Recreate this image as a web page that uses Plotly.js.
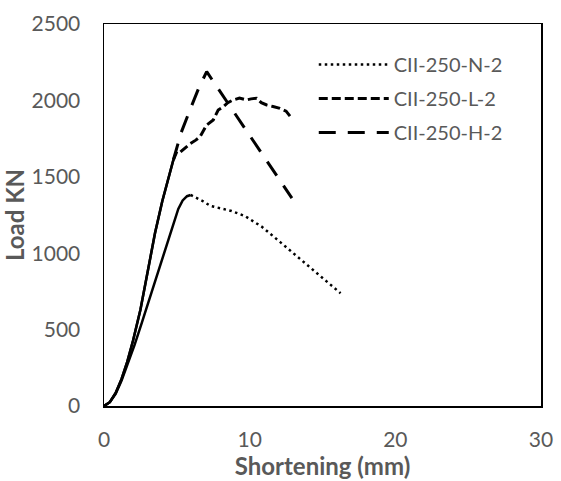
<!DOCTYPE html>
<html>
<head>
<meta charset="utf-8">
<script src="https://cdn.plot.ly/plotly-3.0.1.min.js"></script>
<style>html,body{margin:0;padding:0;background:#fff;}#chart{width:561px;height:481px;}</style>
</head>
<body>
<div id="chart"></div>
<script>
// Series names
const seriesNames = ["CII-250-N-2", "CII-250-L-2", "CII-250-H-2"];

// CII-250-N-2 : shortening (mm), load (kN); rising branch ends at index N_split
const N_x = [0, 0.4, 0.8, 1.2, 1.6, 2.1, 2.6, 3.2, 3.7, 4.2, 4.7, 5.1, 5.4, 5.7, 5.95, 6.3, 6.8, 7.3, 7.8, 8.3, 8.76, 9.68, 10.82, 12.08, 13.34, 14.6, 15.4, 16.24];
const N_y = [0, 25, 80, 165, 270, 400, 545, 720, 870, 1020, 1170, 1290, 1345, 1373, 1381, 1365, 1340, 1310, 1300, 1290, 1276, 1243, 1174, 1074, 972, 874, 810, 738];
const N_split = 14;

// CII-250-L-2
const L_x = [0, 0.4, 0.8, 1.2, 1.6, 2.0, 2.5, 3.0, 3.5, 4.0, 4.4, 4.76, 5.0, 5.22, 5.6, 5.9, 6.3, 6.59, 7.05, 7.5, 7.84, 8.19, 8.5, 8.87, 9.3, 9.79, 10.1, 10.48, 10.8, 11.17, 11.6, 12.08, 12.5, 12.88];
const L_y = [0, 25, 85, 175, 290, 430, 630, 890, 1130, 1340, 1480, 1610, 1665, 1660, 1690, 1715, 1740, 1762, 1839, 1872, 1937, 1959, 1985, 2003, 2015, 2003, 2010, 2014, 1985, 1970, 1960, 1948, 1930, 1883];
const L_split = 11;

// CII-250-H-2
const H_x = [0, 0.4, 0.8, 1.2, 1.6, 2.0, 2.5, 3.0, 3.5, 4.0, 4.4, 4.76, 5.3, 5.9, 6.5, 7.05, 12.9];
const H_y = [0, 25, 85, 175, 290, 430, 630, 890, 1130, 1340, 1480, 1610, 1790, 1937, 2080, 2188, 1360];
const H_split = 11;

// Axis ticks
const xTicks = [0, 10, 20, 30];
const yTicks = [0, 500, 1000, 1500, 2000, 2500];

const black = "#000000";
const grey = "#595959";
const fontFam = "Lato, 'Open Sans', sans-serif";

function parts(x, y, split, name, dash, width, group) {
  return [
    {x: x.slice(0, split + 1), y: y.slice(0, split + 1), mode: "lines", type: "scatter",
     line: {color: black, width: 2.5, dash: "solid"}, showlegend: false, hoverinfo: "skip", legendgroup: group},
    {x: x.slice(split), y: y.slice(split), mode: "lines", type: "scatter", name: name,
     line: {color: black, width: width, dash: dash}, legendgroup: group}
  ];
}

const data = [].concat(
  parts(N_x, N_y, N_split, seriesNames[0], "2.5px,3.5px", 2.5, "n"),
  parts(L_x, L_y, L_split, seriesNames[1], "9px,4px", 3, "l"),
  parts(H_x, H_y, H_split, seriesNames[2], "17px,12px", 3, "h")
);

const layout = {
  width: 561, height: 481,
  margin: {l: 104, r: 20, t: 24, b: 75, pad: 0},
  paper_bgcolor: "#ffffff", plot_bgcolor: "#ffffff",
  font: {family: fontFam, color: grey, size: 20},
  showlegend: true,
  legend: {x: 0.48, y: 0.945, xanchor: "left", yanchor: "top", bgcolor: "rgba(0,0,0,0)",
           font: {family: fontFam, size: 20, color: grey}, itemwidth: 70,
           traceorder: "grouped", tracegroupgap: 5},
  xaxis: {range: [0, 30], tickvals: xTicks, ticktext: xTicks.map(String),
          showline: true, mirror: true, linecolor: black, linewidth: 1.5,
          showgrid: false, zeroline: false, ticks: "outside", ticklen: 14, tickcolor: "rgba(0,0,0,0)",
          tickfont: {family: fontFam, size: 21, color: grey},
          title: {text: "Shortening (mm)", font: {family: fontFam, size: 24, color: grey, weight: "bold"}, standoff: 0}},
  yaxis: {range: [0, 2500], tickvals: yTicks, ticktext: yTicks.map(String),
          showline: true, mirror: true, linecolor: black, linewidth: 1.5,
          showgrid: false, zeroline: false, ticks: "outside", ticklen: 18, tickcolor: "rgba(0,0,0,0)",
          tickfont: {family: fontFam, size: 21, color: grey},
          title: {text: "Load KN", font: {family: fontFam, size: 24, color: grey, weight: "bold"}, standoff: 0}}
};

Plotly.newPlot("chart", data, layout, {staticPlot: true, displayModeBar: false});
</script>
</body>
</html>
